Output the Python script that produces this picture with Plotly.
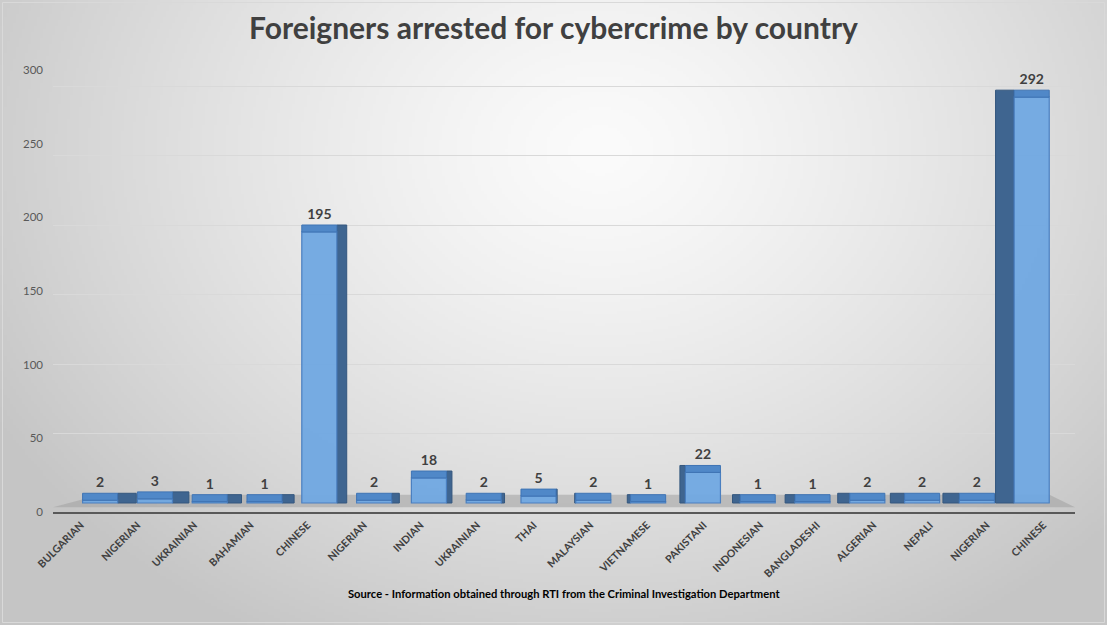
import base64, struct, zlib
import numpy as np
import plotly.graph_objects as go

# ---------------- data ----------------
countries = ["BULGARIAN", "NIGERIAN", "UKRAINIAN", "BAHAMIAN", "CHINESE", "NIGERIAN",
             "INDIAN", "UKRAINIAN", "THAI", "MALAYSIAN", "VIETNAMESE", "PAKISTANI",
             "INDONESIAN", "BANGLADESHI", "ALGERIAN", "NEPALI", "NIGERIAN", "CHINESE"]
arrests = [2, 3, 1, 1, 195, 2, 18, 2, 5, 2, 1, 22, 1, 1, 2, 2, 2, 292]
y_ticks = [0, 50, 100, 150, 200, 250, 300]
title_text = "Foreigners arrested for cybercrime by country"
source_text = "Source - Information obtained through RTI from the Criminal Investigation Department"

# ---------------- layout geometry ----------------
W, H = 1107, 625
ML, MR, MT, MB = 53, 32, 63, 113
PW, PH = W - ML - MR, H - MT - MB
# back plane (bars, gridlines): zero sits a little above the front axis line
BACK_PX = 1.39
Y_RANGE = [-9 / BACK_PX, (PH - 9) / BACK_PX]
# front plane (value labels of the axis)
FRONT_PX = 1.473
Y2_RANGE = [0, PH / FRONT_PX]
X_RANGE = [-0.86, 17.79]          # bars
X2_RANGE = [-0.495, 17.56]        # category labels (front plane, wider spacing)
DEPTH = 5  # visual depth of the faux-3D top face (style)
FRONT_HALF = 0.32

def px_to_paper_x(px):
    return (px - ML) / PW

def px_to_paper_y(py):
    return (H - MB - py) / PH

# ---------------- radial gradient background (PNG data URI) ----------------
def make_png(arr):
    h, w, _ = arr.shape
    raw = b"".join(b"\x00" + arr[r].tobytes() for r in range(h))
    def chunk(tag, data):
        c = struct.pack(">I", len(data)) + tag + data
        return c + struct.pack(">I", zlib.crc32(tag + data) & 0xFFFFFFFF)
    return (b"\x89PNG\r\n\x1a\n" + chunk(b"IHDR", struct.pack(">IIBBBBB", w, h, 8, 2, 0, 0, 0))
            + chunk(b"IDAT", zlib.compress(raw, 9)) + chunk(b"IEND", b""))

gw, gh = 369, 208
gx = (np.arange(gw) + 0.5) * W / gw
gy = (np.arange(gh) + 0.5) * H / gh
GX, GY = np.meshgrid(gx, gy)
d = np.sqrt(((GX - 600) / 700) ** 2 + ((GY - 150) / 560) ** 2)
c = 251 - (251 - 197) * np.clip(d, 0, 1) ** 1.3
img = np.repeat(c[:, :, None], 3, axis=2).astype(np.uint8)
bg_uri = "data:image/png;base64," + base64.b64encode(make_png(img)).decode()

# ---------------- traces ----------------
n = len(arrests)
xs = list(range(n))
mid = (n - 1) / 2
# perspective: side faces widen with distance from the centre of the chart
side_width = [0.04 * abs(i - mid) for i in xs]
side_offset = [FRONT_HALF if i < mid else -FRONT_HALF - w for i, w in zip(xs, side_width)]
side_height = [v + DEPTH for v in arrests]

fig = go.Figure()
# dark side faces
fig.add_trace(go.Bar(
    x=xs, y=side_height, base=0, offset=side_offset, width=side_width,
    marker=dict(color="#3f6590", line=dict(color="#34577e", width=1)),
    hoverinfo="skip", showlegend=False,
))
# front faces
fig.add_trace(go.Bar(
    x=xs, y=arrests, base=0, offset=-FRONT_HALF, width=2 * FRONT_HALF,
    marker=dict(color="rgba(112,168,226,0.95)", line=dict(color="#4a7fc0", width=1.2)),
    showlegend=False,
))
# top faces with value labels
fig.add_trace(go.Bar(
    x=xs, y=[DEPTH] * n, base=arrests, offset=-FRONT_HALF, width=2 * FRONT_HALF,
    marker=dict(color="#5088c8", line=dict(color="#3f74b4", width=1)),
    text=[str(v) for v in arrests], textposition="outside", constraintext="none",
    textfont=dict(family="Lato", size=14, color="#404040", weight="bold"),
    cliponaxis=False, hoverinfo="skip", showlegend=False,
))
# invisible carrier for the front-plane label axes
fig.add_trace(go.Scatter(
    x=xs, y=[0] * n, xaxis="x2", yaxis="y2", mode="markers",
    marker=dict(opacity=0), hoverinfo="skip", showlegend=False,
))

fig.update_layout(
    width=W, height=H,
    margin=dict(l=ML, r=MR, t=MT, b=MB),
    barmode="overlay",
    paper_bgcolor="#d0d0d0",
    plot_bgcolor="rgba(0,0,0,0)",
    font=dict(family="Lato", color="#595959"),
    title=dict(text=title_text, x=0.5, xref="container", xanchor="center",
               y=1 - 28 / H, yref="container", yanchor="middle",
               font=dict(family="Lato", size=30, color="#404040", weight="bold")),
    xaxis=dict(range=X_RANGE, showticklabels=False, showgrid=False, zeroline=False,
               ticks="", showline=True, linecolor="#595959", linewidth=2),
    xaxis2=dict(range=X2_RANGE, overlaying="x", anchor="y2", side="bottom",
                tickmode="array", tickvals=xs, ticktext=countries,
                tickangle=-45, showgrid=False, zeroline=False, ticks="", showline=False,
                ticklabelstandoff=4,
                tickfont=dict(family="Lato", size=10.5, color="#404040", weight="bold")),
    yaxis=dict(range=Y_RANGE, tickmode="array", tickvals=y_ticks[1:],
               showticklabels=False, showgrid=True, gridcolor="#d9d9d9",
               gridwidth=1, zeroline=False, showline=False, ticks=""),
    yaxis2=dict(range=Y2_RANGE, overlaying="y", side="left", anchor="x2",
                tickmode="array", tickvals=y_ticks,
                ticktext=[str(v) for v in y_ticks], showgrid=False, zeroline=False,
                showline=False, ticks="", ticklabelstandoff=9,
                tickfont=dict(family="Lato", size=11.5, color="#595959")),
    images=[dict(source=bg_uri, xref="paper", yref="paper",
                 x=-ML / PW, y=1 + MT / PH, sizex=W / PW, sizey=H / PH,
                 xanchor="left", yanchor="top", sizing="stretch", layer="below")],
    shapes=[
        # grey floor of the 3D plot area
        dict(type="path", xref="paper", yref="y", layer="below",
             path="M 0,-3 L 1,-3 L 0.975,6 L 0.046,6 Z",
             fillcolor="rgba(160,160,160,0.55)", line=dict(width=0)),
        # chart border
        dict(type="rect", xref="paper", yref="paper", layer="above",
             x0=px_to_paper_x(2.5), x1=px_to_paper_x(W - 2.5),
             y0=px_to_paper_y(H - 2.5), y1=px_to_paper_y(2.5),
             line=dict(color="#d9d9d9", width=1), fillcolor="rgba(0,0,0,0)"),
    ],
    annotations=[dict(text=source_text, xref="paper", yref="paper",
                      x=px_to_paper_x(564), y=px_to_paper_y(593),
                      xanchor="center", yanchor="middle", showarrow=False,
                      font=dict(family="Lato", size=11.2, color="#000000", weight="bold"))],
)

fig.write_html("out.html", config={"displayModeBar": False},
               post_script="document.body.style.margin='0';document.body.style.overflow='hidden';")
